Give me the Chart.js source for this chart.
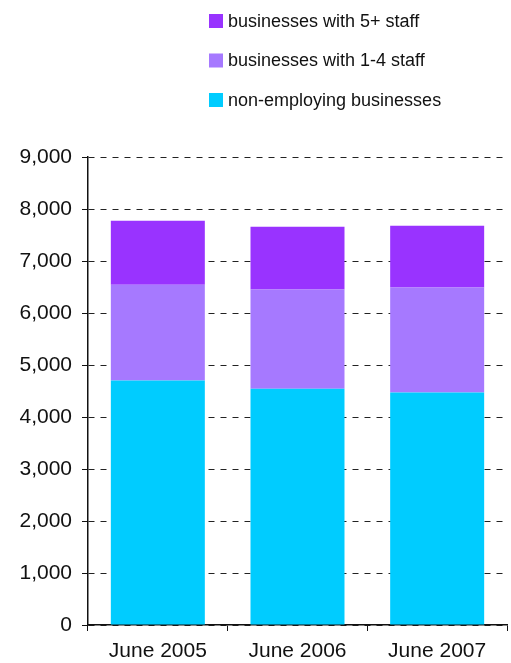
<!DOCTYPE html>
<html>
<head>
<meta charset="utf-8">
<script src="https://cdn.jsdelivr.net/npm/chart.js@4/dist/chart.umd.min.js"></script>
<style>
  html, body { margin: 0; padding: 0; background: #fff; }
  #wrap { position: relative; width: 511px; height: 663px; }
</style>
</head>
<body>
<div id="wrap"><canvas id="c" width="511" height="663"></canvas></div>
<script>
const categories = ["June 2005", "June 2006", "June 2007"];
const nonEmploying = [4700, 4545, 4470];
const staff1to4 = [1845, 1905, 2020];
const staff5plus = [1230, 1210, 1190];
const seriesNames = ["non-employing businesses", "businesses with 1-4 staff", "businesses with 5+ staff"];
const seriesColors = ["#00CCFF", "#A679FF", "#9933FF"];

const FONT = "'Liberation Sans', Arial, Helvetica, sans-serif";

const legendPlugin = {
  id: 'customLegend',
  afterDraw(chart) {
    const ctx = chart.ctx;
    const ds = chart.data.datasets;
    ctx.save();
    ctx.font = "18px " + FONT;
    ctx.textBaseline = 'middle';
    ctx.textAlign = 'left';
    const rows = ds.slice().reverse();
    rows.forEach((d, i) => {
      const cy = 21 + i * 39.5;
      ctx.fillStyle = d.backgroundColor;
      ctx.fillRect(209, cy - 7, 14, 14);
      ctx.fillStyle = '#111';
      ctx.fillText(d.label, 228, cy + 1);
    });
    ctx.restore();
  }
};

new Chart(document.getElementById('c'), {
  type: 'bar',
  data: {
    labels: categories,
    datasets: [
      { label: seriesNames[0], data: nonEmploying, backgroundColor: seriesColors[0] },
      { label: seriesNames[1], data: staff1to4, backgroundColor: seriesColors[1] },
      { label: seriesNames[2], data: staff5plus, backgroundColor: seriesColors[2] }
    ]
  },
  options: {
    responsive: false,
    animation: false,
    devicePixelRatio: 1,
    layout: { padding: { top: 157, right: 4, left: 0, bottom: 0 } },
    datasets: { bar: { barPercentage: 0.673, categoryPercentage: 1.0 } },
    plugins: { legend: { display: false }, tooltip: { enabled: false } },
    scales: {
      x: {
        stacked: true,
        offset: true,
        grid: { display: true, drawOnChartArea: false, drawTicks: true, tickLength: 6, color: '#111', lineWidth: 1 },
        border: { display: true, color: '#111', width: 1.5 },
        ticks: { color: '#111', font: { family: FONT, size: 21 }, padding: 8 },
        afterFit(s) { s.height = 38; }
      },
      y: {
        stacked: true,
        min: 0, max: 9000,
        grid: { display: true, color: '#222', lineWidth: 1, drawTicks: true, tickLength: 6, tickColor: '#111', tickBorderDash: [] },
        border: { display: true, color: '#111', width: 1.5, dash: [6, 6] },
        ticks: {
          stepSize: 1000,
          color: '#111',
          font: { family: FONT, size: 21 },
          padding: 10,
          callback: v => v.toLocaleString('en-US')
        },
        afterFit(s) { s.width = 88; }
      }
    }
  },
  plugins: [legendPlugin]
});
</script>
</body>
</html>
